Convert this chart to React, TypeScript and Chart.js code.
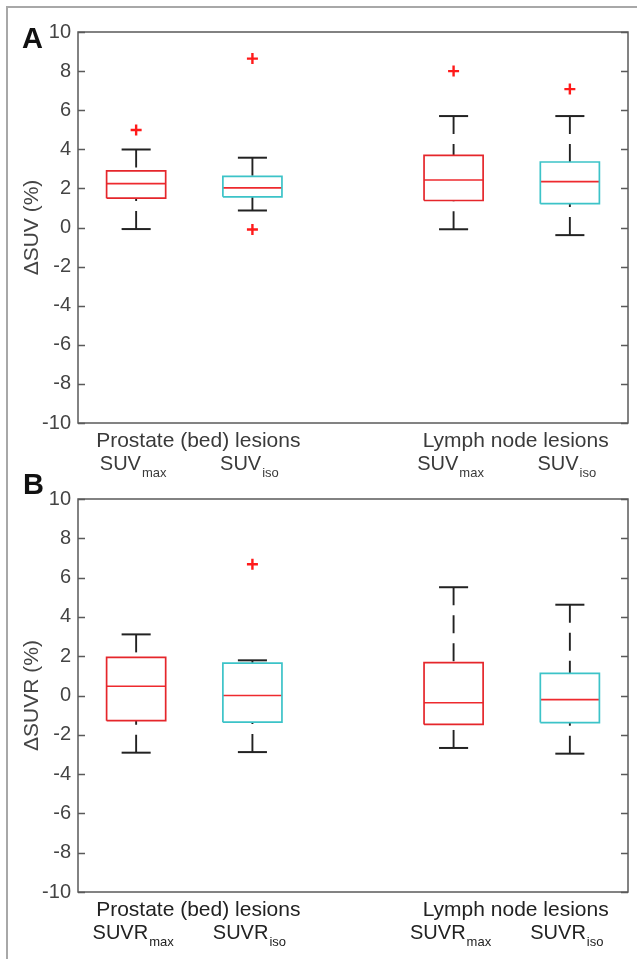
import React, { useEffect, useRef } from 'react';
import { Chart, registerables } from 'chart.js';

Chart.register(...registerables);

// ---------- data ----------
const positions = [1, 2, 3.73, 4.73];
const boxColors = ['#e5262b', '#3cc3c8', '#e5262b', '#3cc3c8'];
const groupLabels = ['Prostate (bed) lesions', 'Lymph node lesions'];
const subLabels = ['max', 'iso', 'max', 'iso'];
const aMainLabel = 'SUV';
const bMainLabel = 'SUVR';
const aTitle = '\u0394SUV (%)';
const bTitle = '\u0394SUVR (%)';

// Panel A (ΔSUV %)
const aQ1 = [1.5, 1.57, 1.38, 1.22];
const aMed = [2.24, 2.03, 2.43, 2.35];
const aQ3 = [2.9, 2.62, 3.69, 3.35];
const aLo = [-0.08, 0.87, -0.09, -0.39];
const aHi = [3.99, 3.57, 5.7, 5.7];
const aOut = [[4.99], [8.64, -0.1], [8.0], [7.08]];

// Panel B (ΔSUVR %)
const bQ1 = [-1.28, -1.36, -1.47, -1.38];
const bMed = [0.47, 0.0, -0.37, -0.21];
const bQ3 = [1.94, 1.65, 1.67, 1.13];
const bLo = [-2.91, -2.88, -2.67, -2.96];
const bHi = [3.11, 1.79, 5.51, 4.62];
const bOut = [[], [6.68], [], []];

const FONT = '"Liberation Sans", Arial, Helvetica, sans-serif';
Chart.defaults.font.family = FONT;

function buildDatasets(q1: number[], med: number[], q3: number[], lo: number[], hi: number[], out: number[][]) {
  const ds: any[] = [];
  const hw = 0.254;
  const cw = 0.125;
  const base = { type: 'line', pointRadius: 0, fill: false, tension: 0, borderCapStyle: 'butt', borderJoinStyle: 'miter' };
  positions.forEach((p, i) => {
    ds.push({
      ...base,
      data: [
        { x: p - hw, y: q1[i] },
        { x: p + hw, y: q1[i] },
        { x: p + hw, y: q3[i] },
        { x: p - hw, y: q3[i] },
        { x: p - hw, y: q1[i] },
      ],
      borderColor: boxColors[i],
      borderWidth: 1.7,
    });
    ds.push({
      ...base,
      data: [{ x: p - hw, y: med[i] }, { x: p + hw, y: med[i] }],
      borderColor: '#ee2a2e',
      borderWidth: 1.7,
    });
    ds.push({
      ...base,
      data: [{ x: p, y: hi[i] }, { x: p, y: q3[i] }],
      borderColor: '#222',
      borderWidth: 1.9,
      borderDash: [18, 10],
    });
    ds.push({
      ...base,
      data: [{ x: p, y: lo[i] }, { x: p, y: q1[i] }],
      borderColor: '#222',
      borderWidth: 1.9,
      borderDash: [18, 10],
    });
    ds.push({
      ...base,
      data: [{ x: p - cw, y: hi[i] }, { x: p + cw, y: hi[i] }],
      borderColor: '#222',
      borderWidth: 2,
    });
    ds.push({
      ...base,
      data: [{ x: p - cw, y: lo[i] }, { x: p + cw, y: lo[i] }],
      borderColor: '#222',
      borderWidth: 2,
    });
  });
  const outPts: { x: number; y: number }[] = [];
  out.forEach((vals, i) => vals.forEach((v) => outPts.push({ x: positions[i], y: v })));
  ds.push({
    type: 'scatter',
    data: outPts,
    showLine: false,
    pointStyle: 'cross',
    pointRadius: 5.5,
    pointBorderWidth: 2.4,
    borderColor: '#ff1a1a',
    backgroundColor: '#ff1a1a',
    pointBorderColor: '#ff1a1a',
  });
  return ds;
}

interface PanelCfg {
  letter: string;
  letterX: number;
  letterY: number;
  mainLabel: string;
  title: string;
  textColor: string;
}

function decorPlugin(cfg: PanelCfg) {
  return {
    id: 'decor' + cfg.letter,
    afterDraw(chart: any) {
      const { ctx, chartArea: ca, scales } = chart;
      const xs = scales.x;
      const ys = scales.y;
      ctx.save();
      // frame
      ctx.strokeStyle = '#5a5a5a';
      ctx.lineWidth = 1.5;
      ctx.strokeRect(ca.left, ca.top, ca.right - ca.left, ca.bottom - ca.top);
      // inward ticks on both sides
      ys.ticks.forEach((t: any) => {
        const py = Math.round(ys.getPixelForValue(t.value)) + 0.5;
        ctx.beginPath();
        ctx.moveTo(ca.left, py);
        ctx.lineTo(ca.left + 7, py);
        ctx.moveTo(ca.right - 7, py);
        ctx.lineTo(ca.right, py);
        ctx.stroke();
      });
      // panel letter
      ctx.fillStyle = '#111';
      ctx.textBaseline = 'alphabetic';
      ctx.textAlign = 'left';
      ctx.font = 'bold 29px ' + FONT;
      ctx.fillText(cfg.letter, cfg.letterX, cfg.letterY);
      // group labels
      ctx.fillStyle = cfg.textColor;
      ctx.font = '21px ' + FONT;
      ctx.textAlign = 'center';
      for (let g = 0; g < 2; g++) {
        const cx = (xs.getPixelForValue(positions[g * 2]) + xs.getPixelForValue(positions[g * 2 + 1])) / 2 + 4;
        ctx.fillText(groupLabels[g], cx, ca.bottom + 24);
      }
      // per box labels with subscripts
      ctx.textAlign = 'left';
      positions.forEach((p, i) => {
        ctx.font = '20px ' + FONT;
        const wm = ctx.measureText(cfg.mainLabel).width;
        ctx.font = '13px ' + FONT;
        const wsub = ctx.measureText(subLabels[i]).width;
        const cx = xs.getPixelForValue(p) - 3;
        const sx = cx - (wm + wsub + 1) / 2;
        ctx.font = '20px ' + FONT;
        ctx.fillText(cfg.mainLabel, sx, ca.bottom + 47);
        ctx.font = '13px ' + FONT;
        ctx.fillText(subLabels[i], sx + wm + 1, ca.bottom + 54);
      });
      ctx.restore();
    },
  };
}

function makeConfig(datasets: any[], cfg: PanelCfg, padding: any) {
  return {
    type: 'line',
    data: { datasets },
    options: {
      responsive: false,
      animation: false,
      events: [],
      layout: { padding },
      plugins: { legend: { display: false }, tooltip: { enabled: false } },
      scales: {
        x: { type: 'linear', min: 0.5, max: 5.23, display: false },
        y: {
          type: 'linear',
          min: -10,
          max: 10,
          afterFit: (scale: any) => {
            scale.width = 78;
          },
          grid: { display: false, drawTicks: false },
          border: { display: false },
          ticks: {
            stepSize: 2,
            padding: 7,
            color: '#444',
            font: { size: 20, family: FONT },
          },
          title: {
            display: true,
            text: cfg.title,
            color: '#444',
            font: { size: 21, family: FONT },
            padding: { top: 20, bottom: 0 },
          },
        },
      },
    },
    plugins: [decorPlugin(cfg)],
  };
}

function Panel(props: { top: number; height: number; datasets: any[]; cfg: PanelCfg; padding: any }) {
  const ref = useRef<HTMLCanvasElement | null>(null);
  useEffect(() => {
    if (!ref.current) return;
    const chart = new Chart(ref.current, makeConfig(props.datasets, props.cfg, props.padding) as any);
    return () => chart.destroy();
  }, []);
  return (
    <canvas
      ref={ref}
      width={637}
      height={props.height}
      style={{ position: 'absolute', left: 0, top: props.top, width: 637, height: props.height }}
    />
  );
}

export default function App() {
  const dsA = buildDatasets(aQ1, aMed, aQ3, aLo, aHi, aOut);
  const dsB = buildDatasets(bQ1, bMed, bQ3, bLo, bHi, bOut);
  return (
    <div style={{ position: 'fixed', left: 0, top: 0, width: 637, height: 959, background: '#fff', overflow: 'hidden' }}>
      <div
        style={{
          position: 'absolute',
          left: 6,
          top: 6,
          width: 640,
          height: 1000,
          borderLeft: '2px solid #a8a8a8',
          borderTop: '2px solid #a8a8a8',
        }}
      />
      <Panel
        top={0}
        height={480}
        datasets={dsA}
        cfg={{ letter: 'A', letterX: 22, letterY: 48, mainLabel: aMainLabel, title: aTitle, textColor: '#3a3a3a' }}
        padding={{ left: 0, right: 9, top: 32, bottom: 57 }}
      />
      <Panel
        top={460}
        height={499}
        datasets={dsB}
        cfg={{ letter: 'B', letterX: 23, letterY: 34, mainLabel: bMainLabel, title: bTitle, textColor: '#222' }}
        padding={{ left: 0, right: 9, top: 39, bottom: 67 }}
      />
    </div>
  );
}
